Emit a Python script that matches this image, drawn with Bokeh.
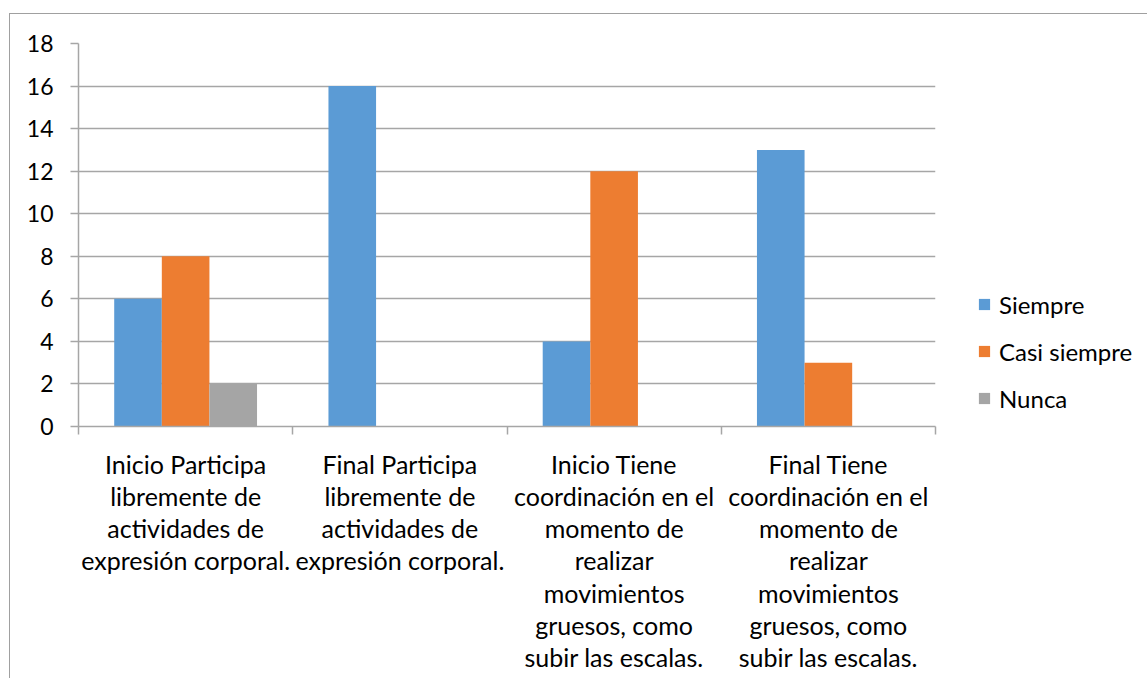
from bokeh.plotting import figure
from bokeh.models import (ColumnDataSource, FactorRange, Range1d, LinearAxis,
                          FixedTicker, Legend, LegendItem)
from bokeh.transform import dodge
from bokeh.embed import file_html
from bokeh.resources import INLINE

# ---------------- data ----------------
categories = [
    "Inicio Participa libremente de actividades de expresión corporal.",
    "Final Participa libremente de actividades de expresión corporal.",
    "Inicio Tiene coordinación en el momento de realizar movimientos gruesos, como subir las escalas.",
    "Final Tiene coordinación en el momento de realizar movimientos gruesos, como subir las escalas.",
]
tick_labels = [
    "Inicio Participa\nlibremente de\nactividades de\nexpresión corporal.",
    "Final Participa\nlibremente de\nactividades de\nexpresión corporal.",
    "Inicio Tiene\ncoordinación en el\nmomento de\nrealizar\nmovimientos\ngruesos, como\nsubir las escalas.",
    "Final Tiene\ncoordinación en el\nmomento de\nrealizar\nmovimientos\ngruesos, como\nsubir las escalas.",
]
series_names = ["Siempre", "Casi siempre", "Nunca"]
siempre = [6, 16, 4, 13]
casi_siempre = [8, 0, 12, 3]
nunca = [2, 0, 0, 0]
y_ticks = [0, 2, 4, 6, 8, 10, 12, 14, 16, 18]

colors = ["#5B9BD5", "#ED7D31", "#A5A5A5"]
FONT = "Lato"
GRAY = "#a6a6a6"

source = ColumnDataSource(dict(cat=categories, s0=siempre, s1=casi_siempre, s2=nunca))

p = figure(
    x_range=FactorRange(factors=categories, range_padding=0),
    y_range=Range1d(0, 18),
    frame_width=857, frame_height=383,
    min_border_left=68, min_border_right=204, min_border_top=29, min_border_bottom=252,
    x_axis_location=None,
    output_backend="svg", toolbar_location=None,
)
p.styles = {"margin-left": "9px", "margin-top": "13px",
            "border-left": "1px solid #a0a0a0", "border-top": "1px solid #a0a0a0"}
p.outline_line_color = None
p.xgrid.grid_line_color = None
p.ygrid.grid_line_color = GRAY
p.ygrid.grid_line_width = 1.5
p.ygrid.ticker = FixedTicker(ticks=y_ticks)

# y axis
ya = p.yaxis[0]
ya.ticker = FixedTicker(ticks=y_ticks)
ya.axis_line_color = GRAY
ya.axis_line_width = 1.5
ya.major_tick_line_color = GRAY
ya.major_tick_line_width = 1.5
ya.major_tick_out = 8
ya.major_tick_in = 0
ya.minor_tick_line_color = None
ya.major_label_text_font = FONT
ya.major_label_text_font_size = "23px"
ya.major_label_text_color = "black"
ya.major_label_standoff = 17

# x axis: labels at factor centres, ticks at factor boundaries (synthetic coords)
n = len(categories)
xa = LinearAxis(
    ticker=FixedTicker(ticks=[i + 0.5 for i in range(n)], minor_ticks=list(range(n + 1))),
    major_label_overrides={i + 0.5: tick_labels[i] for i in range(n)},
)
xa.axis_line_color = GRAY
xa.axis_line_width = 1.5
xa.major_tick_line_color = None
xa.major_tick_out = 0
xa.major_tick_in = 0
xa.minor_tick_line_color = GRAY
xa.minor_tick_line_width = 1.5
xa.minor_tick_out = 8
xa.minor_tick_in = 0
xa.major_label_text_font = FONT
xa.major_label_text_font_size = "25px"
xa.major_label_text_color = "black"
xa.major_label_standoff = 14
xa.major_label_text_line_height = 1.075
p.add_layout(xa, "below")

# bars
w = 1 / 4.5
renderers = []
for k, col in enumerate(["s0", "s1", "s2"]):
    r = p.vbar(x=dodge("cat", (k - 1) * w, range=p.x_range), top=col, bottom=0,
               width=w, source=source, fill_color=colors[k], line_color=None)
    renderers.append(r)

legend = Legend(
    items=[LegendItem(label=series_names[k], renderers=[renderers[k]]) for k in range(3)],
    location=(42, 13),
    glyph_width=14, glyph_height=14, label_standoff=8,
    label_text_font=FONT, label_text_font_size="24px", label_text_color="black",
    label_height=30, spacing=17, padding=0, margin=0,
    border_line_color=None, background_fill_alpha=0,
)
p.add_layout(legend, "right")

open("out.html", "w").write(file_html(p, INLINE))
